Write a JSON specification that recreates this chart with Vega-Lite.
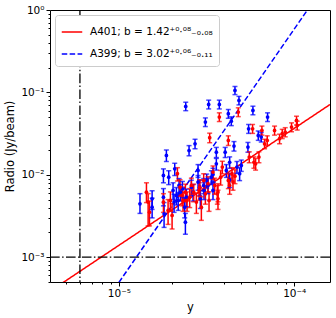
{
"$schema": "https://vega.github.io/schema/vega-lite/v6.json",
"width": 280, "height": 272,
"autosize": {"type": "none"},
"padding": {"left": 50, "top": 10, "right": 6, "bottom": 36},
"config": {
  "font": "DejaVu Sans",
  "view": {"stroke": "black", "strokeWidth": 1},
  "axis": {"grid": false, "domainColor": "black", "tickColor": "black", "labelColor": "black", "titleColor": "black", "labelFontSize": 10.5, "titleFontSize": 11.5, "titleFontWeight": "normal", "labelFont": "DejaVu Sans", "titleFont": "DejaVu Sans", "domain": false}
},
"datasets": {
  "pts": [
    {"s":"A399","x":1.32e-5,"y":0.00444,"lo":0.0034,"hi":0.0059},
    {"s":"A399","x":1.548e-5,"y":0.00511,"lo":0.0038,"hi":0.0064},
    {"s":"A399","x":1.548e-5,"y":0.00405,"lo":0.0030,"hi":0.0052},
    {"s":"A399","x":1.796e-5,"y":0.00981,"lo":0.0080,"hi":0.0118},
    {"s":"A399","x":1.796e-5,"y":0.00535,"lo":0.0042,"hi":0.0068},
    {"s":"A399","x":1.811e-5,"y":0.00336,"lo":0.0023,"hi":0.0046},
    {"s":"A399","x":1.867e-5,"y":0.0172,"lo":0.0145,"hi":0.0200},
    {"s":"A399","x":1.925e-5,"y":0.00937,"lo":0.0076,"hi":0.0112},
    {"s":"A399","x":2.038e-5,"y":0.00645,"lo":0.0050,"hi":0.0080},
    {"s":"A399","x":2.083e-5,"y":0.0118,"lo":0.0098,"hi":0.0138},
    {"s":"A399","x":2.065e-5,"y":0.00466,"lo":0.0035,"hi":0.0058},
    {"s":"A399","x":2.129e-5,"y":0.00561,"lo":0.0043,"hi":0.0070},
    {"s":"A399","x":2.205e-5,"y":0.00742,"lo":0.0059,"hi":0.0090},
    {"s":"A399","x":2.244e-5,"y":0.00616,"lo":0.0048,"hi":0.0076},
    {"s":"A399","x":2.304e-5,"y":0.00676,"lo":0.0053,"hi":0.0083},
    {"s":"A399","x":2.375e-5,"y":0.00405,"lo":0.0030,"hi":0.0052},
    {"s":"A399","x":2.396e-5,"y":0.00266,"lo":0.0019,"hi":0.0034},
    {"s":"A399","x":2.407e-5,"y":0.0676,"lo":0.0600,"hi":0.0760},
    {"s":"A399","x":2.514e-5,"y":0.0197,"lo":0.0170,"hi":0.0226},
    {"s":"A399","x":2.720e-5,"y":0.0238,"lo":0.0207,"hi":0.0270},
    {"s":"A399","x":2.829e-5,"y":0.0113,"lo":0.0093,"hi":0.0133},
    {"s":"A399","x":2.892e-5,"y":0.00708,"lo":0.0056,"hi":0.0086},
    {"s":"A399","x":2.917e-5,"y":0.00511,"lo":0.0039,"hi":0.0064},
    {"s":"A399","x":3.115e-5,"y":0.0436,"lo":0.0385,"hi":0.0490},
    {"s":"A399","x":3.253e-5,"y":0.0715,"lo":0.0630,"hi":0.0805},
    {"s":"A399","x":3.170e-5,"y":0.00853,"lo":0.0069,"hi":0.0102},
    {"s":"A399","x":3.225e-5,"y":0.00742,"lo":0.0059,"hi":0.0090},
    {"s":"A399","x":3.369e-5,"y":0.00937,"lo":0.0076,"hi":0.0112},
    {"s":"A399","x":3.443e-5,"y":0.0101,"lo":0.0082,"hi":0.0120},
    {"s":"A399","x":3.597e-5,"y":0.0188,"lo":0.0162,"hi":0.0215},
    {"s":"A399","x":3.741e-5,"y":0.0715,"lo":0.0630,"hi":0.0805},
    {"s":"A399","x":3.597e-5,"y":0.0136,"lo":0.0114,"hi":0.0158},
    {"s":"A399","x":3.443e-5,"y":0.00645,"lo":0.0050,"hi":0.0080},
    {"s":"A399","x":4.04e-5,"y":0.0188,"lo":0.0162,"hi":0.0215},
    {"s":"A399","x":4.210e-5,"y":0.0551,"lo":0.0485,"hi":0.0620},
    {"s":"A399","x":4.285e-5,"y":0.00869,"lo":0.0070,"hi":0.0104},
    {"s":"A399","x":4.535e-5,"y":0.0223,"lo":0.0194,"hi":0.0253},
    {"s":"A399","x":4.594e-5,"y":0.1057,"lo":0.0940,"hi":0.1180},
    {"s":"A399","x":4.379e-5,"y":0.0448,"lo":0.0395,"hi":0.0505},
    {"s":"A399","x":4.842e-5,"y":0.0799,"lo":0.0705,"hi":0.0895},
    {"s":"A399","x":4.716e-5,"y":0.0124,"lo":0.0104,"hi":0.0145},
    {"s":"A399","x":4.884e-5,"y":0.0103,"lo":0.0085,"hi":0.0122},
    {"s":"A399","x":4.992e-5,"y":0.0130,"lo":0.0110,"hi":0.0151},
    {"s":"A399","x":5.495e-5,"y":0.0362,"lo":0.0318,"hi":0.0408},
    {"s":"A399","x":5.447e-5,"y":0.0217,"lo":0.0188,"hi":0.0247},
    {"s":"A399","x":5.815e-5,"y":0.0605,"lo":0.0535,"hi":0.0680},
    {"s":"A399","x":6.237e-5,"y":0.0300,"lo":0.0262,"hi":0.0340},
    {"s":"A399","x":6.487e-5,"y":0.0287,"lo":0.0250,"hi":0.0326},
    {"s":"A399","x":7.049e-5,"y":0.0502,"lo":0.0443,"hi":0.0565},
    {"s":"A399","x":2.592e-5,"y":0.00708,"lo":0.0056,"hi":0.0086},
    {"s":"A399","x":2.649e-5,"y":0.00616,"lo":0.0048,"hi":0.0076},
    {"s":"A399","x":2.428e-5,"y":0.00535,"lo":0.0041,"hi":0.0067},
    {"s":"A399","x":3.047e-5,"y":0.00742,"lo":0.0059,"hi":0.0090},
    {"s":"A399","x":3.061e-5,"y":0.00645,"lo":0.0050,"hi":0.0080},
    {"s":"A399","x":4.101e-5,"y":0.0113,"lo":0.0093,"hi":0.0133},
    {"s":"A399","x":4.285e-5,"y":0.0142,"lo":0.0120,"hi":0.0165},
    {"s":"A399","x":2.18e-5,"y":0.00488,"lo":0.0037,"hi":0.0061},
    {"s":"A399","x":2.829e-5,"y":0.00815,"lo":0.0065,"hi":0.0098},
    {"s":"A401","x":1.437e-5,"y":0.00616,"lo":0.0046,"hi":0.0080},
    {"s":"A401","x":1.469e-5,"y":0.00466,"lo":0.0024,"hi":0.0059},
    {"s":"A401","x":1.495e-5,"y":0.00352,"lo":0.0024,"hi":0.0048},
    {"s":"A401","x":1.796e-5,"y":0.00466,"lo":0.0035,"hi":0.0059},
    {"s":"A401","x":1.909e-5,"y":0.00369,"lo":0.0025,"hi":0.0050},
    {"s":"A401","x":1.968e-5,"y":0.00488,"lo":0.0036,"hi":0.0062},
    {"s":"A401","x":2.012e-5,"y":0.00321,"lo":0.0022,"hi":0.0045},
    {"s":"A401","x":2.158e-5,"y":0.0103,"lo":0.0084,"hi":0.0122},
    {"s":"A401","x":2.234e-5,"y":0.00708,"lo":0.0055,"hi":0.0087},
    {"s":"A401","x":2.294e-5,"y":0.00561,"lo":0.0042,"hi":0.0071},
    {"s":"A401","x":2.396e-5,"y":0.00616,"lo":0.0047,"hi":0.0077},
    {"s":"A401","x":2.449e-5,"y":0.00488,"lo":0.0036,"hi":0.0062},
    {"s":"A401","x":2.536e-5,"y":0.00535,"lo":0.0040,"hi":0.0068},
    {"s":"A401","x":2.592e-5,"y":0.00742,"lo":0.0058,"hi":0.0091},
    {"s":"A401","x":2.673e-5,"y":0.00616,"lo":0.0047,"hi":0.0077},
    {"s":"A401","x":2.768e-5,"y":0.00466,"lo":0.0034,"hi":0.0060},
    {"s":"A401","x":2.866e-5,"y":0.00645,"lo":0.0049,"hi":0.0081},
    {"s":"A401","x":2.955e-5,"y":0.00405,"lo":0.0028,"hi":0.0054},
    {"s":"A401","x":3.047e-5,"y":0.00853,"lo":0.0068,"hi":0.0103},
    {"s":"A401","x":3.115e-5,"y":0.00588,"lo":0.0044,"hi":0.0074},
    {"s":"A401","x":3.268e-5,"y":0.00488,"lo":0.0036,"hi":0.0062},
    {"s":"A401","x":3.296e-5,"y":0.0282,"lo":0.0245,"hi":0.0320},
    {"s":"A401","x":3.443e-5,"y":0.0108,"lo":0.0088,"hi":0.0128},
    {"s":"A401","x":3.519e-5,"y":0.00742,"lo":0.0058,"hi":0.0091},
    {"s":"A401","x":3.644e-5,"y":0.00588,"lo":0.0044,"hi":0.0074},
    {"s":"A401","x":3.676e-5,"y":0.00511,"lo":0.0038,"hi":0.0065},
    {"s":"A401","x":3.741e-5,"y":0.0502,"lo":0.0443,"hi":0.0565},
    {"s":"A401","x":3.891e-5,"y":0.0124,"lo":0.0103,"hi":0.0146},
    {"s":"A401","x":4.210e-5,"y":0.0261,"lo":0.0227,"hi":0.0297},
    {"s":"A401","x":4.210e-5,"y":0.00853,"lo":0.0068,"hi":0.0103},
    {"s":"A401","x":4.285e-5,"y":0.00742,"lo":0.0058,"hi":0.0091},
    {"s":"A401","x":4.418e-5,"y":0.0103,"lo":0.0084,"hi":0.0122},
    {"s":"A401","x":4.476e-5,"y":0.00815,"lo":0.0065,"hi":0.0099},
    {"s":"A401","x":4.594e-5,"y":0.00963,"lo":0.0078,"hi":0.0115},
    {"s":"A401","x":4.799e-5,"y":0.0577,"lo":0.0508,"hi":0.0650},
    {"s":"A401","x":5.543e-5,"y":0.0164,"lo":0.0140,"hi":0.0190},
    {"s":"A401","x":5.790e-5,"y":0.0362,"lo":0.0318,"hi":0.0408},
    {"s":"A401","x":5.892e-5,"y":0.0142,"lo":0.0120,"hi":0.0165},
    {"s":"A401","x":6.023e-5,"y":0.0136,"lo":0.0114,"hi":0.0158},
    {"s":"A401","x":6.292e-5,"y":0.0164,"lo":0.0140,"hi":0.0190},
    {"s":"A401","x":6.544e-5,"y":0.0346,"lo":0.0303,"hi":0.0390},
    {"s":"A401","x":6.777e-5,"y":0.0238,"lo":0.0207,"hi":0.0270},
    {"s":"A401","x":7.018e-5,"y":0.0261,"lo":0.0227,"hi":0.0297},
    {"s":"A401","x":7.727e-5,"y":0.0346,"lo":0.0303,"hi":0.0390},
    {"s":"A401","x":8.251e-5,"y":0.0274,"lo":0.0238,"hi":0.0311},
    {"s":"A401","x":8.545e-5,"y":0.0315,"lo":0.0275,"hi":0.0356},
    {"s":"A401","x":8.888e-5,"y":0.0330,"lo":0.0289,"hi":0.0373},
    {"s":"A401","x":9.656e-5,"y":0.0379,"lo":0.0333,"hi":0.0427},
    {"s":"A401","x":1.031e-4,"y":0.0457,"lo":0.0402,"hi":0.0514},
    {"s":"A401","x":1.040e-4,"y":0.0397,"lo":0.0349,"hi":0.0447},
    {"s":"A401","x":3.807e-5,"y":0.00937,"lo":0.0075,"hi":0.0113},
    {"s":"A401","x":3.225e-5,"y":0.0078,"lo":0.0062,"hi":0.0095},
    {"s":"A401","x":2.892e-5,"y":0.00708,"lo":0.0055,"hi":0.0087},
    {"s":"A401","x":2.324e-5,"y":0.00488,"lo":0.0036,"hi":0.0062},
    {"s":"A401","x":3.676e-5,"y":0.0062,"lo":0.0047,"hi":0.0078}
  ],
  "fits": [
    {"s":"A401","x":4.0e-6,"y":0.000379},
    {"s":"A401","x":1.6e-4,"y":0.0713},
    {"s":"A399","x":1.0e-5,"y":0.000493},
    {"s":"A399","x":1.19e-4,"y":1.0}
  ],
  "vref": [{"x": 6e-6}],
  "href": [{"y": 0.001}]
},
"layer": [
  {
    "data": {"name": "fits"},
    "mark": {"type": "line", "clip": true, "strokeWidth": 1.5},
    "encoding": {
      "x": {"field": "x", "type": "quantitative", "scale": {"type": "log", "domain": [4.05e-6, 1.6e-4], "nice": false},
            "axis": {"title": "y", "values": [5e-6,6e-6,7e-6,8e-6,9e-6,1e-5,2e-5,3e-5,4e-5,5e-5,6e-5,7e-5,8e-5,9e-5,1e-4],
                     "labelExpr": "datum.value == 1e-5 ? '10⁻⁵' : datum.value == 1e-4 ? '10⁻⁴' : ''",
                     "tickSize": {"condition": {"test": "datum.value == 1e-5 || datum.value == 1e-4", "value": 4}, "value": 2},
                     "labelPadding": 2, "titlePadding": 3}},
      "y": {"field": "y", "type": "quantitative", "scale": {"type": "log", "domain": [0.0005, 1], "nice": false},
            "axis": {"title": "Radio (Jy/beam)", "values": [0.0005,0.0006,0.0007,0.0008,0.0009,0.001,0.002,0.003,0.004,0.005,0.006,0.007,0.008,0.009,0.01,0.02,0.03,0.04,0.05,0.06,0.07,0.08,0.09,0.1,0.2,0.3,0.4,0.5,0.6,0.7,0.8,0.9,1],
                     "labelExpr": "datum.value == 1 ? '10⁰' : datum.value == 0.1 ? '10⁻¹' : datum.value == 0.01 ? '10⁻²' : datum.value == 0.001 ? '10⁻³' : ''",
                     "tickSize": {"condition": {"test": "datum.value == 1 || datum.value == 0.1 || datum.value == 0.01 || datum.value == 0.001", "value": 4}, "value": 2},
                     "labelPadding": 2, "titlePadding": 5}},
      "color": {"field": "s", "type": "nominal", "scale": {"domain": ["A401", "A399"], "range": ["#ff0000", "#0000ff"]},
                "legend": {"title": null, "orient": "top-left", "offset": 5, "fillColor": "white", "strokeColor": "#cccccc", "cornerRadius": 3, "padding": 6,
                           "labelFontSize": 10.5, "labelFont": "DejaVu Sans", "labelColor": "black", "symbolType": "stroke", "symbolSize": 420, "symbolStrokeWidth": 1.5, "rowPadding": 5, "labelLimit": 300, "labelOffset": 7,
                           "labelExpr": "datum.label == 'A401' ? 'A401; b = 1.42⁺⁰·⁰⁸₋₀.₀₈' : 'A399; b = 3.02⁺⁰·⁰⁶₋₀.₁₁'",
                           "encode": {"symbols": {"update": {"strokeDash": {"signal": "datum.value == 'A399' ? [5.5, 2.4] : [1, 0]"}}}}}},
      "strokeDash": {"field": "s", "type": "nominal", "scale": {"domain": ["A401", "A399"], "range": [[1, 0], [5.5, 2.4]]}, "legend": null}
    }
  },
  {
    "data": {"name": "pts"},
    "encoding": {
      "x": {"field": "x", "type": "quantitative"},
      "color": {"field": "s", "type": "nominal", "scale": {"domain": ["A401", "A399"], "range": ["#ff0000", "#0000ff"]}, "legend": null}
    },
    "layer": [
      {"mark": {"type": "rule", "strokeWidth": 1.5}, "encoding": {"y": {"field": "lo", "type": "quantitative"}, "y2": {"field": "hi"}}},
      {"mark": {"type": "tick", "orient": "horizontal", "size": 5, "thickness": 1.5}, "encoding": {"y": {"field": "lo", "type": "quantitative"}}},
      {"mark": {"type": "tick", "orient": "horizontal", "size": 5, "thickness": 1.5}, "encoding": {"y": {"field": "hi", "type": "quantitative"}}},
      {"mark": {"type": "point", "filled": true, "size": 14, "opacity": 1}, "encoding": {"y": {"field": "y", "type": "quantitative"}}}
    ]
  },
  {
    "data": {"name": "vref"},
    "mark": {"type": "rule", "color": "black", "strokeWidth": 1.3, "strokeDash": [9.6, 2.4, 1.5, 2.4]},
    "encoding": {"x": {"field": "x", "type": "quantitative"}}
  },
  {
    "data": {"name": "href"},
    "mark": {"type": "rule", "color": "black", "strokeWidth": 1.3, "strokeDash": [9.6, 2.4, 1.5, 2.4]},
    "encoding": {"y": {"field": "y", "type": "quantitative"}}
  }
],
"resolve": {"scale": {"color": "independent"}, "legend": {"color": "independent"}}
}
